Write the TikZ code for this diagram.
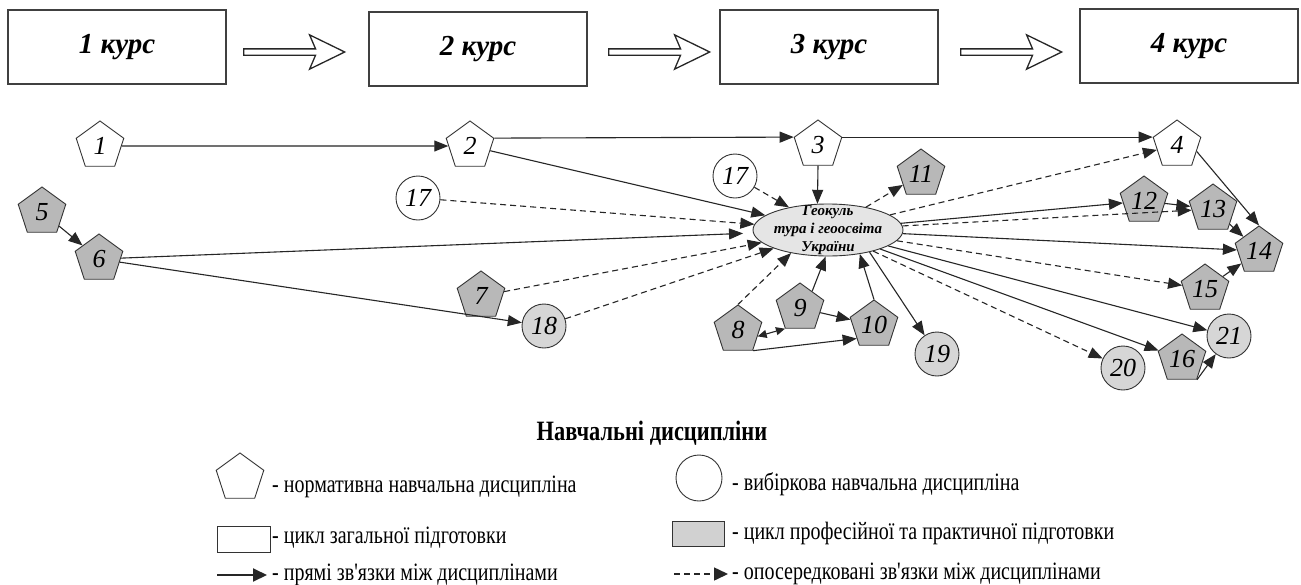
\documentclass[tikz,border=0pt]{standalone}
\usepackage{fontspec}
\setmainfont{Liberation Serif}
\newfontfamily\legfont[FakeStretch=0.8]{Liberation Serif}
\usetikzlibrary{shapes.geometric,shapes.arrows,arrows.meta,calc}
\begin{document}
\begin{tikzpicture}[x=1pt,y=-1pt,
  penta/.style={regular polygon, regular polygon sides=5, minimum size=50pt, inner sep=0pt, draw=black!80, line width=0.9pt, font=\fontsize{26}{26}\selectfont\itshape},
  pw/.style={penta, fill=white},
  pg/.style={penta, fill=black!28},
  circ/.style={circle, minimum size=44pt, inner sep=0pt, draw=black!80, line width=0.9pt, font=\fontsize{26}{26}\selectfont\itshape},
  cw/.style={circ, fill=white},
  cg/.style={circ, fill=black!16},
  course/.style={draw=black!75, line width=1.3pt, minimum width=218pt, minimum height=74pt, inner sep=0pt, font=\fontsize{29}{29}\selectfont\bfseries\itshape},
  bigarrow/.style={single arrow, draw=black!85, line width=1.3pt, fill=white, inner xsep=0pt, inner ysep=2.5pt, single arrow head extend=14pt, single arrow tip angle=52, single arrow head indent=6pt, minimum height=101pt},
  sol/.style={draw=black!85, line width=1.1pt, -{Triangle[length=14pt,width=11pt]}},
  das/.style={sol, dash pattern=on 6pt off 4pt},
  leg/.style={anchor=west, inner sep=0pt, font=\fontsize{25}{25}\legfont},
]
\useasboundingbox (0,0) rectangle (1301,584);
\fill[white] (0,0) rectangle (1301,584);

% course boxes
\node[course] (k1) at (117,47) {1 курс};
\node[course] (k2) at (478,49) {2 курс};
\node[course] (k3) at (829,47) {3 курс};
\node[course] (k4) at (1189,46) {4 курс};
\node[bigarrow] (a1) at (291,52) {};
\node[bigarrow] (a2) at (656,52) {};
\node[bigarrow] (a3) at (1008,52) {};

% disciplines
\node[pw] (p1) at (100,146) {1};
\node[pw] (p2) at (470,146) {2};
\node[pw] (p3) at (818,145) {3};
\node[pw] (p4) at (1177,145) {4};
\node[pg] (p5) at (42,212) {5};
\node[pg] (p6) at (99,259) {6};
\node[pg] (p7) at (481,296) {7};
\node[pg] (p8) at (738,330) {8};
\node[pg] (p9) at (800,308) {9};
\node[pg] (p10) at (874,325) {10};
\node[pg] (p11) at (921,174) {11};
\node[pg] (p12) at (1144,201) {12};
\node[pg] (p13) at (1213,209) {13};
\node[pg] (p14) at (1259,251) {14};
\node[pg] (p15) at (1205,289) {15};
\node[pg] (p16) at (1182,359) {16};
\node[cw] (c17a) at (418,198) {17};
\node[cw] (c17b) at (735,176) {17};
\node[cg] (c18) at (544,326) {18};
\node[cg] (c19) at (937,354) {19};
\node[cg] (c20) at (1123,368) {20};
\node[cg] (c21) at (1229,336) {21};

\node[ellipse, draw=black!80, line width=0.9pt, fill=black!10, minimum width=150pt, minimum height=52pt, inner sep=0pt,
  label={[align=center, font=\fontsize{15}{18}\selectfont\bfseries\itshape]center:{Геокуль\\тура і геоосвіта\\України}}] (geo) at (828,230) {};

% solid connectors
\draw[sol] (p1) -- (p2);
\draw[sol] (p2.corner 5) -- (p3.corner 2);
\draw[sol] (p3.corner 5) -- (p4.corner 2);
\draw[sol] (p2) -- (geo);
\draw[sol] (p3.south) -- (geo.112);
\draw[sol] (p5) -- (p6);
\draw[sol, shorten >=10pt] (p6) -- (geo);
\draw[sol] (p6) -- (c18);
\draw[sol] (p9.side 5) -- (geo.265);
\draw[sol] (p9) -- (p10);
\draw[sol] (p8.corner 4) -- ($(p10.side 2)!0.5!(p10.corner 3)$);
\draw[sol, {Triangle[length=9pt,width=8pt]}-{Triangle[length=9pt,width=8pt]}] (p8.side 4) -- (p9.corner 3);
\draw[sol] (p10.corner 1) -- (geo.323);
\draw[sol] (geo.332) -- (c19);
\draw[sol] (geo) -- (p12);
\draw[sol] (geo) -- (p14);
\draw[sol] (geo) -- (c21);
\draw[sol] (geo) -- (p16);
\draw[sol] (p4.side 4) -- (p14.corner 1);
\draw[sol] (p12) -- (p13);
\draw[sol] (p13) -- (p14);
\draw[sol] (p15) -- (p14);
\draw[sol] (p16.corner 4) -- (c21);

% dashed connectors
\draw[das] (c17a) -- (geo);
\draw[das] (c17b) -- (geo);
\draw[das] (p7) -- (geo);
\draw[das] (c18) -- (geo);
\draw[das] (p8.corner 1) -- (geo.212);
\draw[das] (geo) -- (p11);
\draw[das] (geo) -- (p4);
\draw[das] (geo) -- (p13);
\draw[das] (geo) -- (p15);
\draw[das] (geo) -- (c20);

% legend
\node[font=\fontsize{28}{28}\legfont\bfseries] (title) at (652,433) {Навчальні дисципліни};
\node[pw] (lp) at (240,478) {};
\node[leg] (lpt) at (272,487) {- нормативна навчальна дисципліна};
\node[cw, minimum size=46pt] (lc) at (699,478) {};
\node[leg] (lct) at (732,484) {- вибіркова навчальна дисципліна};
\node[draw=black!80, line width=0.9pt, minimum width=53pt, minimum height=26pt, inner sep=0pt] (lr1) at (243.5,539) {};
\node[leg] (lr1t) at (272,538) {- цикл загальної підготовки};
\node[draw=black!80, line width=0.9pt, fill=black!18, minimum width=52pt, minimum height=25pt, inner sep=0pt] (lr2) at (698,533.5) {};
\node[leg] (lr2t) at (732,533) {- цикл професійної та практичної підготовки};
\coordinate (ls1) at (217,575);
\coordinate (ls2) at (267,575);
\draw[draw=black!85, line width=2pt, -{Triangle[length=14pt,width=13pt]}] (ls1) -- (ls2);
\node[leg] (lst) at (272,575) {- прямі зв'язки між дисциплінами};
\coordinate (ld1) at (674,574);
\coordinate (ld2) at (728,574);
\draw[draw=black!85, line width=1.5pt, dash pattern=on 6pt off 4pt, -{Triangle[length=14pt,width=13pt]}] (ld1) -- (ld2);
\node[leg] (ldt) at (732,574) {- опосередковані зв'язки між дисциплінами};
\end{tikzpicture}
\end{document}
